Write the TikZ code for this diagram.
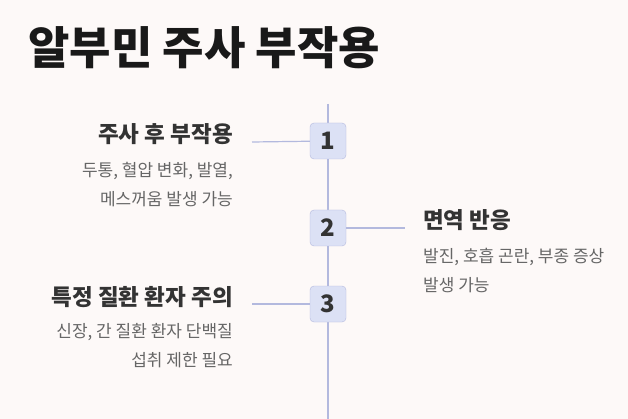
\documentclass[tikz,border=0pt]{standalone}
\usepackage{fontspec}
\setmainfont{Noto Sans CJK KR}
\definecolor{bg}{HTML}{FDF9F8}
\definecolor{ln}{HTML}{B3B9DE}
\definecolor{bx}{HTML}{DCE1F5}
\definecolor{txt}{HTML}{333333}
\definecolor{gr}{HTML}{666666}
\begin{document}
\begin{tikzpicture}[x=1pt,y=-1pt,
  numbox/.style={draw=ln,fill=bx,rounded corners=4pt,minimum size=36pt,inner sep=0pt,font=\fontsize{24}{24}\selectfont\bfseries,text=txt},
  head/.style={font=\fontsize{22.5}{22.5}\selectfont\bfseries,text=txt,inner sep=0pt},
  desc/.style={font=\fontsize{17}{29}\selectfont,text=gr,inner sep=0pt,align=right},
  descl/.style={font=\fontsize{17}{29}\selectfont,text=gr,inner sep=0pt,align=left},
  conn/.style={draw=ln,line width=1.2pt}]
\fill[bg] (0,0) rectangle (628,419);
\useasboundingbox (0,0) rectangle (628,419);
\node[anchor=west,inner sep=0pt,font=\fontsize{45}{45}\selectfont\bfseries,text=black!90] (title) at (28,48) {알부민 주사 부작용};
\coordinate (top) at (328,104);
\coordinate (bot) at (328,419);
\draw[conn] (top) -- (bot);
\coordinate (l1) at (252,142);
\coordinate (r2) at (405,228);
\coordinate (l3) at (252,304);
\node[numbox] (b1) at (328,141) {1};
\node[numbox] (b2) at (328,228) {2};
\node[numbox] (b3) at (328,304) {3};
\draw[conn] (b1) -- (l1);
\draw[conn] (b2) -- (r2);
\draw[conn] (b3) -- (l3);
\node[head,anchor=east] (h1) at (233,134) {주사 후 부작용};
\node[desc,anchor=north east] (d1) at (233,162) {두통, 혈압 변화, 발열,\\메스꺼움 발생 가능};
\node[head,anchor=west] (h2) at (423,220) {면역 반응};
\node[descl,anchor=north west] (d2) at (423,248) {발진, 호흡 곤란, 부종 증상\\발생 가능};
\node[head,anchor=east] (h3) at (233,297) {특정 질환 환자 주의};
\node[desc,anchor=north east] (d3) at (233,323) {신장, 간 질환 환자 단백질\\섭취 제한 필요};
\end{tikzpicture}
\end{document}
